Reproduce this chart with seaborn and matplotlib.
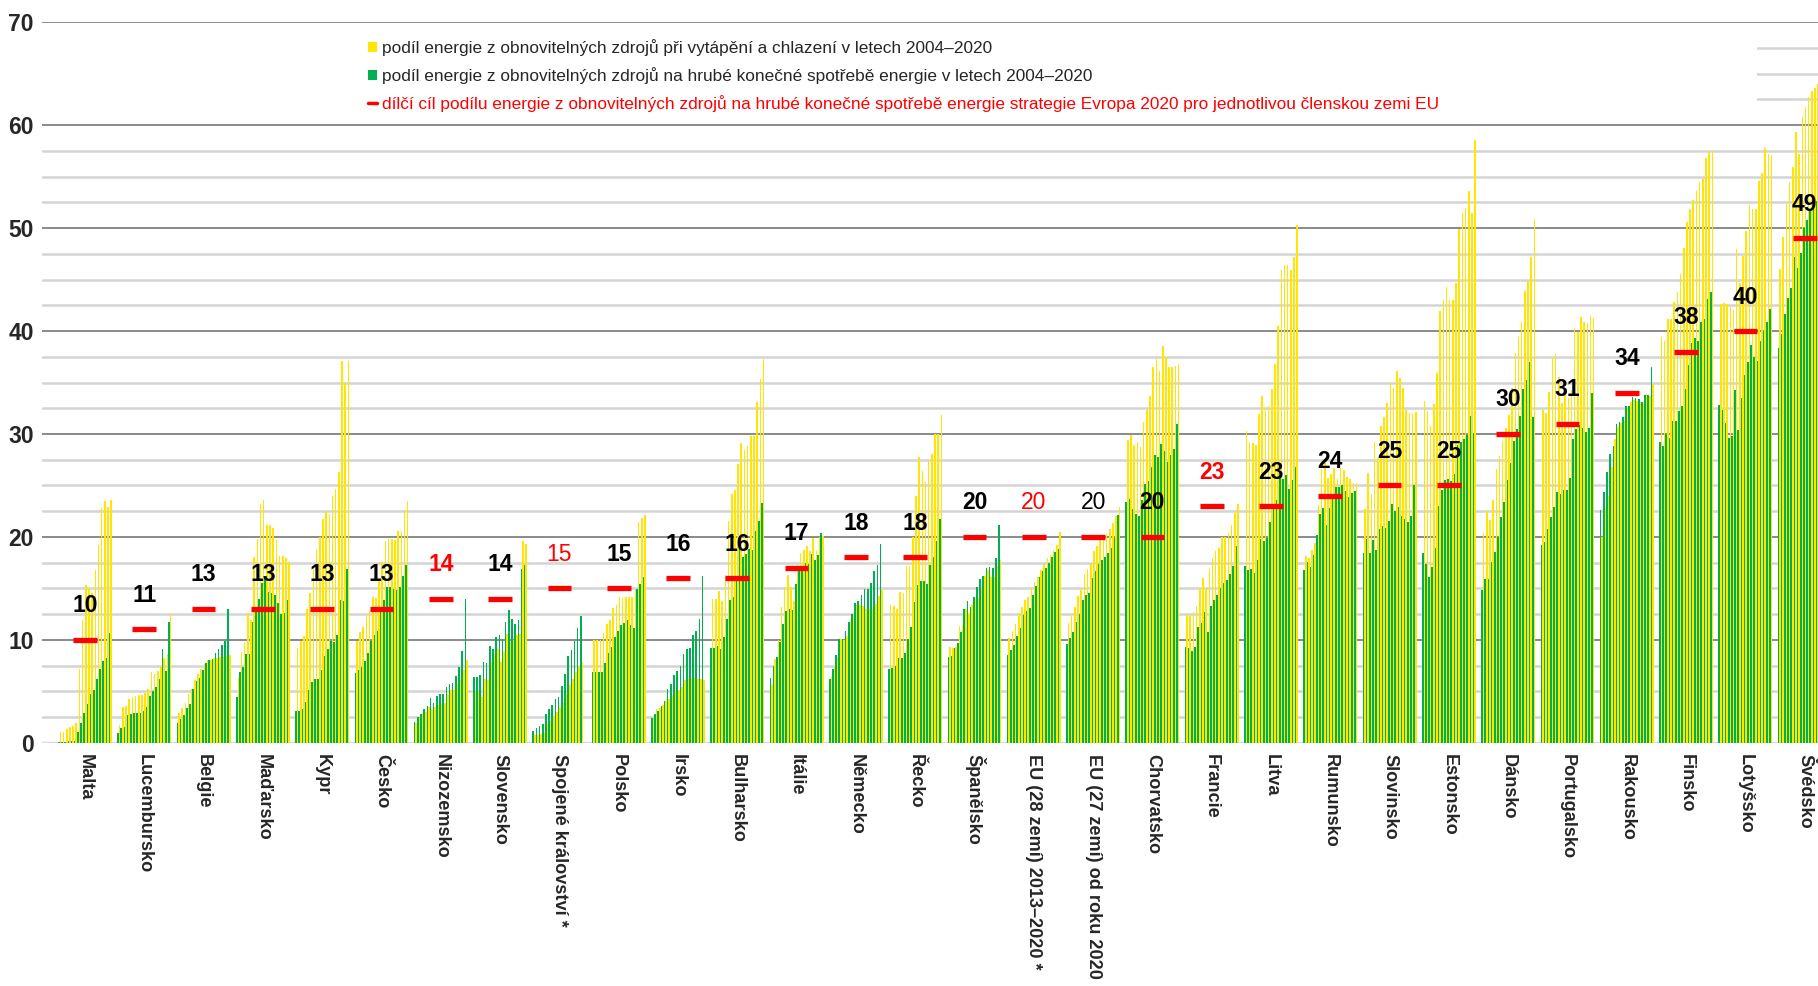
import numpy as np
import pandas as pd
import matplotlib
matplotlib.use("Agg")
import matplotlib.pyplot as plt
from matplotlib.lines import Line2D
from matplotlib.patches import Patch, Rectangle
from matplotlib.ticker import MultipleLocator
import seaborn as sns

years = list(range(2004, 2021))

countries = ["Malta", "Lucembursko", "Belgie", "Maďarsko", "Kypr", "Česko",
             "Nizozemsko", "Slovensko", "Spojené království *", "Polsko", "Irsko",
             "Bulharsko", "Itálie", "Německo", "Řecko", "Španělsko",
             "EU (28 zemí) 2013–2020 *", "EU (27 zemí) od roku 2020", "Chorvatsko",
             "Francie", "Litva", "Rumunsko", "Slovinsko", "Estonsko", "Dánsko",
             "Portugalsko", "Rakousko", "Finsko", "Lotyšsko", "Švédsko"]

# cíle Evropa 2020 (%)
targets = [10, 11, 13, 13, 13, 13, 14, 14, 15, 15, 16, 16, 17, 18, 18, 20, 20, 20,
           20, 23, 23, 24, 25, 25, 30, 31, 34, 38, 40, 49]
target_colors = ["black"] * 6 + ["red", "black", "red"] + ["black"] * 7 + ["red", "black", "black",
                 "red"] + ["black"] * 10
target_weights = ["bold"] * 8 + ["normal"] + ["bold"] * 7 + ["normal", "normal"] + ["bold"] * 12

# podíl OZE na hrubé konečné spotřebě energie 2004–2020 (%)
res_total = [
    [0.1, 0.1, 0.1, 0.2, 0.2, 0.2, 1.0, 1.9, 2.9, 3.8, 4.7, 5.1, 6.2, 7.2, 7.9, 8.2, 10.7],
    [0.9, 1.4, 1.5, 2.7, 2.8, 2.9, 2.9, 2.9, 3.1, 3.5, 4.5, 5.0, 5.4, 6.2, 9.1, 7.0, 11.7],
    [1.9, 2.3, 2.7, 3.4, 3.8, 5.2, 6.0, 6.3, 7.1, 7.7, 8.0, 8.1, 8.7, 9.1, 9.5, 9.9, 13.0],
    [4.4, 6.9, 7.4, 8.6, 8.6, 11.7, 12.7, 14.0, 15.5, 16.2, 14.6, 14.5, 14.4, 13.6, 12.5, 12.6, 13.9],
    [3.1, 3.1, 3.3, 4.0, 5.1, 5.9, 6.2, 6.2, 7.1, 8.4, 9.1, 9.9, 9.8, 10.5, 13.9, 13.8, 16.9],
    [6.8, 7.1, 7.4, 7.9, 8.7, 9.9, 10.5, 10.9, 12.8, 13.9, 15.1, 15.1, 14.9, 14.8, 15.1, 16.2, 17.3],
    [2.0, 2.5, 2.8, 3.3, 3.6, 4.3, 3.9, 4.5, 4.7, 4.7, 5.4, 5.7, 5.8, 6.5, 7.4, 8.9, 14.0],
    [6.4, 6.4, 6.6, 7.8, 7.7, 9.4, 9.1, 10.3, 10.5, 10.1, 11.7, 12.9, 12.0, 11.5, 11.9, 16.9, 17.3],
    [1.1, 1.4, 1.6, 1.8, 2.8, 3.3, 3.7, 4.2, 4.4, 5.5, 6.7, 8.4, 9.0, 9.9, 11.1, 12.3, np.nan],
    [6.9, 6.9, 6.9, 6.9, 7.7, 8.7, 9.3, 10.3, 10.9, 11.4, 11.6, 11.9, 11.4, 11.1, 14.9, 15.4, 16.1],
    [2.4, 2.8, 3.1, 3.6, 4.1, 5.2, 5.7, 6.6, 7.0, 7.5, 8.6, 9.1, 9.2, 10.5, 10.9, 12.0, 16.2],
    [9.2, 9.2, 9.4, 9.1, 10.3, 12.0, 13.9, 14.2, 15.8, 18.9, 18.0, 18.3, 18.8, 18.7, 20.6, 21.5, 23.3],
    [6.3, 7.5, 8.3, 9.8, 11.5, 12.8, 13.0, 12.9, 15.4, 16.7, 17.1, 17.5, 17.4, 18.3, 17.8, 18.2, 20.4],
    [6.2, 7.2, 8.5, 10.1, 10.1, 10.9, 11.7, 12.5, 13.6, 13.8, 14.4, 14.9, 14.9, 15.5, 16.7, 17.3, 19.3],
    [7.2, 7.3, 7.5, 8.2, 8.2, 8.7, 10.1, 11.2, 13.7, 15.3, 15.7, 15.7, 15.4, 17.3, 18.0, 19.6, 21.7],
    [8.3, 8.4, 9.2, 9.7, 10.8, 13.0, 13.8, 13.2, 14.2, 15.1, 15.9, 16.2, 17.0, 17.1, 17.0, 17.9, 21.2],
    [8.5, 9.0, 9.5, 10.4, 11.1, 12.4, 12.8, 13.1, 14.4, 15.2, 16.1, 16.7, 17.0, 17.5, 18.0, 18.5, 18.8],
    [9.6, 10.2, 10.8, 11.7, 12.5, 13.9, 14.4, 14.5, 16.0, 16.7, 17.4, 17.8, 18.0, 18.4, 18.9, 19.9, 22.1],
    [23.4, 23.7, 22.7, 22.2, 22.0, 23.6, 25.1, 25.4, 26.8, 28.0, 27.8, 29.0, 28.3, 27.3, 28.0, 28.5, 31.0],
    [9.3, 9.2, 8.9, 9.3, 11.2, 11.6, 12.7, 10.8, 13.3, 13.9, 14.4, 15.0, 15.5, 15.8, 16.4, 17.2, 19.1],
    [17.2, 16.8, 16.9, 16.5, 17.8, 19.8, 19.6, 19.9, 21.4, 22.7, 23.6, 25.8, 25.6, 26.0, 24.7, 25.5, 26.8],
    [16.8, 17.6, 17.1, 18.2, 20.2, 22.2, 22.8, 21.2, 22.8, 23.9, 24.8, 24.8, 25.0, 24.5, 23.9, 24.3, 24.5],
    [18.4, 19.8, 18.4, 19.7, 18.7, 20.8, 21.1, 20.9, 21.5, 23.2, 22.5, 22.9, 22.0, 21.7, 21.4, 22.0, 25.0],
    [18.4, 17.4, 16.1, 17.1, 18.9, 23.0, 24.6, 25.5, 25.6, 25.4, 26.1, 28.9, 29.2, 29.5, 29.9, 31.7, 30.1],
    [14.8, 15.9, 15.9, 17.6, 18.5, 20.0, 21.9, 23.4, 25.5, 27.2, 29.3, 30.5, 31.7, 34.4, 35.2, 37.0, 31.6],
    [19.2, 19.5, 20.8, 21.9, 22.9, 24.4, 24.2, 24.6, 24.6, 25.7, 29.5, 30.5, 30.9, 30.6, 30.2, 30.6, 34.0],
    [22.6, 24.4, 26.3, 28.1, 28.8, 31.0, 31.2, 31.6, 32.7, 32.7, 33.6, 33.5, 33.4, 33.1, 33.8, 33.8, 36.5],
    [29.2, 28.8, 30.0, 29.6, 31.3, 31.3, 32.2, 32.7, 34.4, 36.7, 38.8, 39.3, 39.0, 40.9, 41.2, 43.1, 43.8],
    [32.8, 32.3, 31.1, 29.6, 29.8, 34.3, 30.4, 33.5, 35.7, 37.0, 38.6, 37.5, 37.1, 39.0, 40.0, 40.9, 42.1],
    [38.4, 39.7, 41.7, 43.2, 44.2, 47.2, 46.1, 47.6, 50.0, 50.8, 51.8, 52.2, 52.6, 53.4, 53.9, 56.4, 60.1],
]

# podíl OZE při vytápění a chlazení 2004–2020 (%)
res_heat = [
    [1.0, 1.0, 1.3, 1.5, 1.6, 1.9, 7.2, 11.9, 15.3, 15.0, 14.5, 16.8, 19.2, 22.8, 23.5, 22.9, 23.6],
    [1.7, 3.5, 3.6, 4.2, 4.4, 4.5, 4.6, 4.6, 4.8, 5.2, 6.9, 6.7, 7.0, 7.4, 8.2, 8.6, 12.5],
    [2.9, 3.4, 3.9, 4.7, 5.2, 6.1, 6.7, 7.2, 7.6, 8.0, 8.0, 8.2, 8.2, 8.3, 8.3, 8.4, 8.5],
    [6.3, 8.8, 9.8, 12.6, 11.9, 18.0, 19.8, 23.2, 23.6, 21.2, 21.2, 20.9, 19.7, 18.1, 18.1, 17.9, 17.6],
    [9.2, 9.9, 10.4, 13.0, 14.5, 17.2, 18.8, 20.0, 21.7, 22.5, 22.2, 24.0, 24.7, 26.3, 37.1, 35.0, 37.1],
    [9.9, 10.8, 11.2, 12.3, 12.8, 14.2, 14.1, 15.9, 17.6, 19.6, 19.8, 19.8, 19.7, 20.6, 20.6, 22.6, 23.5],
    [1.9, 2.4, 2.8, 3.0, 3.5, 3.2, 3.5, 3.7, 3.8, 3.9, 4.6, 5.1, 5.1, 5.7, 6.1, 7.1, 8.0],
    [5.0, 5.0, 4.4, 6.2, 6.1, 7.8, 8.6, 9.1, 7.8, 8.8, 10.6, 9.8, 10.0, 10.5, 10.6, 19.6, 19.3],
    [0.7, 0.7, 0.8, 0.9, 1.8, 2.1, 2.6, 3.0, 3.4, 3.9, 4.7, 5.6, 6.2, 6.9, 7.5, 7.8, np.nan],
    [10.0, 10.0, 10.0, 10.7, 11.5, 11.9, 13.1, 13.4, 14.2, 14.1, 14.2, 14.2, 14.2, 14.8, 21.4, 21.8, 22.1],
    [2.4, 3.3, 3.4, 3.7, 4.1, 4.2, 4.5, 5.0, 5.1, 5.4, 6.1, 6.2, 6.2, 6.3, 6.2, 6.2, 6.1],
    [14.0, 14.0, 14.7, 13.8, 16.3, 21.5, 24.2, 24.6, 27.1, 29.1, 28.4, 28.8, 29.8, 29.8, 33.1, 35.3, 37.3],
    [5.6, 8.1, 10.0, 13.2, 15.1, 16.3, 15.1, 13.8, 17.4, 18.4, 18.7, 19.1, 18.6, 19.9, 18.6, 20.0, 20.1],
    [6.4, 7.4, 8.2, 10.1, 10.0, 10.4, 11.7, 12.4, 13.4, 13.4, 13.3, 13.0, 13.0, 13.0, 13.5, 14.3, 14.8],
    [13.4, 13.3, 13.0, 14.6, 14.5, 17.2, 17.2, 20.0, 24.0, 27.8, 26.4, 25.3, 27.4, 28.1, 30.0, 30.0, 31.8],
    [9.3, 9.2, 9.3, 11.3, 11.3, 13.0, 12.5, 13.4, 14.0, 14.1, 15.0, 16.2, 16.8, 16.1, 16.1, 17.2, 17.8],
    [10.2, 10.9, 11.5, 12.5, 13.2, 13.9, 14.2, 15.0, 15.6, 16.1, 16.8, 17.4, 17.9, 18.2, 18.7, 19.2, 20.5],
    [11.6, 12.4, 13.2, 14.3, 14.8, 16.4, 16.9, 17.4, 18.6, 19.1, 19.9, 20.2, 20.3, 20.8, 21.3, 22.0, 22.9],
    [29.4, 29.9, 28.9, 29.2, 28.7, 31.2, 32.3, 33.7, 36.5, 37.3, 36.1, 38.5, 37.5, 36.5, 36.5, 36.6, 36.8],
    [12.4, 12.3, 12.7, 13.3, 14.9, 16.0, 14.9, 16.9, 17.9, 18.6, 18.9, 20.0, 20.0, 20.4, 21.2, 22.3, 23.2],
    [30.3, 29.2, 29.1, 28.9, 31.9, 33.7, 32.6, 32.7, 34.4, 36.8, 40.5, 45.9, 46.4, 46.4, 45.9, 47.2, 50.3],
    [18.1, 17.9, 18.7, 19.4, 23.1, 26.6, 27.2, 25.7, 26.1, 26.7, 25.6, 26.7, 26.5, 25.8, 25.6, 25.2, 25.2],
    [22.7, 26.2, 24.2, 29.2, 27.7, 30.8, 31.6, 33.0, 35.0, 34.5, 36.1, 35.4, 34.5, 32.3, 32.0, 32.0, 32.1],
    [33.2, 32.2, 30.8, 32.9, 35.9, 41.9, 43.0, 44.3, 43.0, 43.0, 44.7, 49.9, 51.5, 52.0, 53.6, 51.5, 58.6],
    [20.4, 22.5, 21.6, 23.6, 26.6, 27.9, 29.3, 30.6, 31.8, 34.5, 37.9, 39.4, 40.9, 43.9, 44.9, 47.2, 50.9],
    [32.3, 32.0, 34.1, 37.4, 37.8, 35.5, 33.0, 34.5, 33.5, 34.3, 40.3, 39.9, 41.4, 40.9, 40.8, 41.5, 41.3],
    [20.0, 22.7, 24.0, 26.8, 29.5, 30.7, 31.1, 31.3, 32.5, 33.1, 33.3, 33.2, 33.1, 33.0, 33.9, 33.7, 34.9],
    [39.4, 39.0, 41.2, 41.2, 42.8, 43.8, 45.5, 48.1, 50.6, 51.9, 52.7, 53.6, 54.5, 54.8, 56.8, 57.4, 57.5],
    [42.6, 42.7, 42.6, 42.3, 42.0, 48.0, 44.7, 47.3, 49.7, 52.2, 51.9, 51.9, 54.6, 55.4, 57.8, 57.2, 57.1],
    [46.0, 49.1, 52.3, 54.5, 55.9, 59.3, 57.2, 60.8, 61.8, 62.7, 63.3, 63.6, 64.0, 64.5, 65.0, 66.1, 66.4],
]

legend_labels = [
    "podíl energie z obnovitelných zdrojů při vytápění a chlazení v letech 2004–2020",
    "podíl energie z obnovitelných zdrojů na hrubé konečné spotřebě energie v letech 2004–2020",
    "dílčí cíl podílu energie z obnovitelných zdrojů na hrubé konečné spotřebě energie "
    "strategie Evropa 2020 pro jednotlivou členskou zemi EU",
]

GREEN = "#00B050"
YELLOW = "#FFE500"

sns.set_theme(style="white")
plt.rcParams["font.family"] = ["Liberation Sans", "DejaVu Sans"]

# long table: for each country and year a green and a yellow bar
rows = []
for c, tot, heat in zip(countries, res_total, res_heat):
    for yr, t, h in zip(years, tot, heat):
        rows.append((c, f"{yr} celkem", t))
        rows.append((c, f"{yr} vytápění", h))
df = pd.DataFrame(rows, columns=["zeme", "rada", "podil"]).dropna()
hue_order = [f"{yr} {s}" for yr in years for s in ("celkem", "vytápění")]
palette = {h: (GREEN if h.endswith("celkem") else YELLOW) for h in hue_order}

fig = plt.figure(figsize=(18.18, 9.86), dpi=100)
ax = fig.add_axes([42 / 1818, (986 - 742.7) / 986, 1 - 42 / 1818, (742.7 - 22.3) / 986])

sns.barplot(data=df, x="zeme", y="podil", hue="rada", order=countries,
            hue_order=hue_order, palette=palette, width=0.91, gap=0,
            saturation=1, errorbar=None, legend=False, linewidth=0, ax=ax)

# targets: red dash + number
xpos = np.arange(len(countries))
ax.hlines(targets, xpos - 0.2, xpos + 0.2, colors="red", lw=3.8, zorder=4)
for x, t, col, wt in zip(xpos, targets, target_colors, target_weights):
    ax.text(x, t + 3.3, str(t), ha="center", va="center", fontsize=16.5,
            fontweight=wt, color=col, zorder=5)

ax.set_xlim(-0.725, 29.224)
ax.set_ylim(0, 70)
ax.yaxis.set_major_locator(MultipleLocator(10))
ax.yaxis.set_minor_locator(MultipleLocator(2.5))
ax.set_axisbelow(True)
ax.grid(axis="y", which="major", color="#8a8a8a", lw=1.4)
ax.grid(axis="y", which="minor", color="#d4d4d4", lw=1.8)
ax.grid(axis="x", visible=False)
ax.axhline(0, color="#d9d9d9", lw=2.5, zorder=0.8)
for s in ax.spines.values():
    s.set_visible(False)

# legend sits on a white box that hides the upper minor gridlines
ax.add_patch(Rectangle((-0.725, 61), 28.2 + 0.725, 8, facecolor="white",
                       edgecolor="none", zorder=0.9))

ax.tick_params(axis="y", which="both", length=0, pad=6, labelsize=16.5)
for lab in ax.get_yticklabels():
    lab.set_fontweight("bold")
ax.set_xticks(xpos)
ax.set_xticklabels(countries, rotation=-90, fontweight="bold", fontsize=13.1)
ax.tick_params(axis="x", length=0, pad=8)
ax.set_xlabel("")
ax.set_ylabel("")

handles = [Patch(facecolor=YELLOW, edgecolor="none"),
           Patch(facecolor=GREEN, edgecolor="none"),
           Line2D([0], [0], color="red", lw=2.5)]
leg = ax.legend(handles, legend_labels, loc="upper left",
                bbox_to_anchor=(368 / 1818, 1 - 39 / 986), bbox_transform=fig.transFigure,
                frameon=False, fontsize=12.4, handlelength=0.5, handleheight=0.5,
                handletextpad=0.3, labelspacing=0.63, borderaxespad=0, borderpad=0)
leg.get_texts()[2].set_color("red")

fig.savefig("out.png", dpi=100)
